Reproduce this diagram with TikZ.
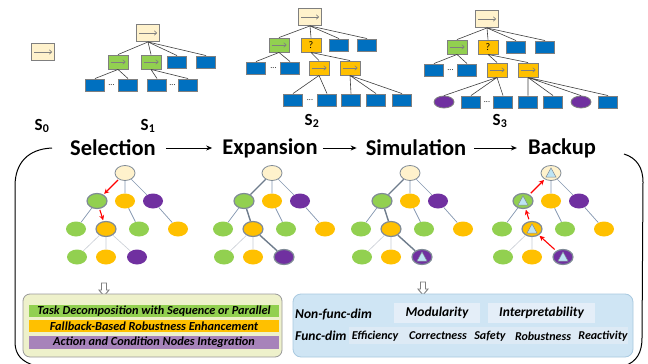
\documentclass[tikz,border=0pt]{standalone}
\usepackage{fontspec}
\setmainfont{Carlito}
\usetikzlibrary{shapes.geometric,arrows.meta,backgrounds,fit}
\definecolor{cream}{HTML}{FFF2CC}
\definecolor{gr}{HTML}{92D050}
\definecolor{orng}{HTML}{FFC000}
\definecolor{purp}{HTML}{7030A0}
\definecolor{blu}{HTML}{0070C0}
\definecolor{boxgray}{HTML}{7F7F7F}
\definecolor{edgedark}{HTML}{3F3F3F}
\definecolor{nodegray}{HTML}{7F8A96}
\definecolor{bedgec}{HTML}{8497B0}
\definecolor{ledgec}{HTML}{C9CED6}
\definecolor{pathc}{HTML}{6E7C8C}
\definecolor{tricol}{HTML}{BDE4F4}
\definecolor{hlyellow}{HTML}{FBF8CC}
\definecolor{panelL}{HTML}{EEF1CB}
\definecolor{lav}{HTML}{A783BA}
\definecolor{panelR}{HTML}{CFE5F4}
\definecolor{panelRb}{HTML}{A9C9E0}
\definecolor{subbox}{HTML}{E4EEF8}
\definecolor{band}{HTML}{DDEAF5}
\newcommand\mctstree[6]{%
\node[bn, fill=cream, draw=nodegray, line width=0.8pt, #3] (#1r) at (#2,173) {};
\node[bn, fill=gr, #4] (#1a) at (#2-28,201) {};
\node[bn, fill=orng] (#1b) at (#2,201) {};
\node[bn, fill=purp] (#1c) at (#2+28,201) {};
\node[bn, fill=gr] (#1d) at (#2-49,229) {};
\node[bn, fill=orng, #5] (#1e) at (#2-19,229) {};
\node[bn, fill=gr] (#1f) at (#2+14,229) {};
\node[bn, fill=orng] (#1g) at (#2+53,229) {};
\node[bn, fill=gr] (#1h) at (#2-48,257) {};
\node[bn, fill=orng] (#1i) at (#2-19,257) {};
\node[bn, fill=purp, #6] (#1j) at (#2+12,257) {};
\draw[bedge] (#1r) -- (#1b) (#1r) -- (#1c) (#1a) -- (#1d) (#1b) -- (#1f) (#1c) -- (#1g);
\draw[ledge] (#1e) -- (#1h) (#1e) -- (#1i);
}
\begin{document}
\begin{tikzpicture}[x=1pt,y=-1pt,
  arrowpic/.style={path picture={\draw[line width=0.6pt,-{To[length=3pt,width=5pt]}] ([xshift=2.5pt]path picture bounding box.west) -- ([xshift=-2.5pt]path picture bounding box.east);}},
  tb/.style={draw=boxgray, line width=0.9pt, inner sep=0pt, rectangle},
  rootbox/.style={tb, fill=cream, minimum width=23, minimum height=17, arrowpic},
  seqbox/.style={tb, fill=gr, minimum width=20, minimum height=14, arrowpic},
  yseq/.style={tb, fill=orng, minimum width=20, minimum height=14, arrowpic},
  qbox/.style={tb, fill=orng, minimum width=20, minimum height=14, font=\fontsize{10}{10}\selectfont},
  blbox/.style={tb, fill=blu, minimum width=19, minimum height=12},
  pell/.style={ellipse, fill=purp, draw=boxgray, line width=0.8pt, minimum width=20, minimum height=12, inner sep=0pt},
  dotsn/.style={inner sep=0pt, font=\fontsize{8}{8}\selectfont},
  tedge/.style={draw=edgedark, line width=0.6pt},
  slabel/.style={font=\bfseries\fontsize{17}{17}\selectfont},
  phase/.style={font=\fontsize{22.5}{24}\selectfont\bfseries, inner sep=0pt},
  phasearr/.style={-{Stealth[length=6pt,width=5pt]}, line width=0.9pt},
  bn/.style={ellipse, minimum width=20, minimum height=15, inner sep=0pt},
  hl/.style={draw=nodegray, line width=1.2pt},
  tri/.style={path picture={\draw[fill=tricol, draw=nodegray, line width=0.5pt] ([yshift=5pt]path picture bounding box.center) -- ++(5pt,-9pt) -- ++(-10pt,0pt) -- cycle;}},
  bedge/.style={draw=bedgec, line width=0.7pt},
  ledge/.style={draw=ledgec, line width=0.6pt},
  pathedge/.style={draw=pathc, line width=1.4pt},
  redarr/.style={draw=red, line width=1.1pt, -{Stealth[length=5pt,width=5pt]}},
  hollow/.style={draw=boxgray, fill=white, line width=0.9pt},
  bar/.style={minimum width=250, minimum height=12.5, inner sep=0pt, font=\fontsize{12.3}{12.3}\selectfont\bfseries\itshape},
  ptext/.style={inner sep=0pt, font=\fontsize{12}{12}\selectfont\bfseries\itshape},
  ltext/.style={inner sep=0pt, font=\fontsize{13.5}{13.5}\selectfont\bfseries\itshape},
]
\useasboundingbox (0,0) rectangle (648,364);
\fill[white] (0,0) rectangle (648,364);

% ---------- S0 ----------
\node[rootbox] (z0) at (43,52) {};
\node[slabel] (ls0) at (42,126) {S\textsubscript{0}};

% ---------- S1 ----------
\node[rootbox] (a0) at (148,33) {};
\node[seqbox] (a1) at (118,62) {};
\node[seqbox] (a2) at (151,62) {};
\node[blbox] (a3) at (177,62) {};
\node[blbox] (a4) at (206,62) {};
\node[blbox] (a5) at (95,85) {};
\node[blbox] (a6) at (128,85) {};
\node[blbox] (a7) at (157,85) {};
\node[blbox] (a8) at (188,85) {};
\node[dotsn] (ad1) at (111.5,85) {...};
\node[dotsn] (ad2) at (172.5,85) {...};
\foreach \c in {a1,a2,a3,a4} \draw[tedge] (a0.south) -- (\c.north);
\draw[tedge] (a1.south) -- (a5.north) (a1.south) -- (a6.north) (a2.south) -- (a7.north) (a2.south) -- (a8.north);
\node[slabel] (ls1) at (148,126) {S\textsubscript{1}};

% ---------- S2 ----------
\node[rootbox] (b0) at (310,17) {};
\node[seqbox] (b1) at (279,45) {};
\node[qbox] (b2) at (311,45) {?};
\node[blbox] (b3) at (339,45) {};
\node[blbox] (b4) at (367,45) {};
\node[blbox] (b5) at (256,68) {};
\node[blbox] (b6) at (290,68) {};
\node[yseq] (b7) at (319,68) {};
\node[yseq] (b8) at (350,68) {};
\node[dotsn] (bd1) at (273.5,68) {...};
\node[blbox] (b9) at (293,100) {};
\node[blbox] (b10) at (327,100) {};
\node[blbox] (b11) at (351,100) {};
\node[blbox] (b12) at (376,100) {};
\node[blbox] (b13) at (402,100) {};
\node[dotsn] (bd2) at (310,100) {...};
\foreach \c in {b1,b2,b3,b4} \draw[tedge] (b0.south) -- (\c.north);
\draw[tedge] (b1.south) -- (b5.north) (b1.south) -- (b6.north) (b2.south) -- (b7.north) (b2.south) -- (b8.north);
\draw[tedge] (b7.south) -- (b9.north) (b7.south) -- (b10.north);
\draw[tedge] (b8.south) -- (b11.north) (b8.south) -- (b12.north) (b8.south) -- (b13.north);
\node[slabel] (ls2) at (312,121) {S\textsubscript{2}};

% ---------- S3 ----------
\node[rootbox] (c0) at (487,19) {};
\node[seqbox] (c1) at (457,47) {};
\node[qbox] (c2) at (488,47) {?};
\node[blbox] (c3) at (516,47) {};
\node[blbox] (c4) at (545,47) {};
\node[blbox] (c5) at (434,70) {};
\node[blbox] (c6) at (467,70) {};
\node[yseq] (c7) at (497,70) {};
\node[yseq] (c8) at (528,70) {};
\node[dotsn] (cd1) at (450.5,70) {...};
\node[pell] (c9) at (444,102) {};
\node[blbox] (c10) at (471,102) {};
\node[blbox] (c11) at (503,102) {};
\node[blbox] (c12) at (528,102) {};
\node[blbox] (c13) at (553,102) {};
\node[pell] (c14) at (581,102) {};
\node[blbox] (c15) at (608,102) {};
\node[dotsn] (cd2) at (487,102) {...};
\foreach \c in {c1,c2,c3,c4} \draw[tedge] (c0.south) -- (\c.north);
\draw[tedge] (c1.south) -- (c5.north) (c1.south) -- (c6.north) (c2.south) -- (c7.north) (c2.south) -- (c8.north);
\draw[tedge] (c7.south) -- (c9.north) (c7.south) -- (c10.north) (c7.south) -- (c11.north);
\draw[tedge] (c8.south) -- (c12.north) (c8.south) -- (c13.north) (c8.south) -- (c14.north) (c8.south) -- (c15.north);
\node[slabel] (ls3) at (500,121) {S\textsubscript{3}};

% ---------- phases ----------
\node[phase] (psel) at (113,148) {Selection};
\node[phase] (pexp) at (270,148) {Expansion};
\node[phase] (psim) at (416,148) {Simulation};
\node[phase] (pbak) at (562,148) {Backup};
\draw[phasearr, shorten <=10pt, shorten >=10pt] (psel.east) -- (pexp.west);
\draw[phasearr, shorten <=5pt, shorten >=9pt] (pexp.east) -- (psim.west);
\draw[phasearr, shorten <=8pt, shorten >=11pt] (psim.east) -- (pbak.west);

% ---------- bracket ----------
\draw[line width=1pt] (52,148) .. controls (28,149) and (15,163) .. (15,186) -- (15,342) .. controls (15,355) and (22,362) .. (36,366);
\draw[line width=1pt] (624,154) .. controls (637,158) and (643,168) .. (643,182) -- (642,338) .. controls (642,352) and (637,362) .. (624,366);

% ---------- bottom trees ----------
\mctstree{s}{125}{}{hl}{hl}{}
\draw[redarr, shorten <=1pt, shorten >=1pt] (sr) -- (sa);
\draw[redarr, shorten <=1pt, shorten >=1pt] (sa) -- (se);
\draw[ledge] (se) -- (sj);
\begin{scope}[on background layer]
\node[fill=hlyellow, rounded corners=4pt, inner xsep=9pt, inner ysep=6pt, fit=(sh)(sj)] (shl) {};
\end{scope}

\mctstree{e}{272}{}{hl}{hl}{hl}
\draw[pathedge] (er) -- (ea) (ea) -- (ee) (ee) -- (ej);

\mctstree{m}{410}{}{hl}{hl}{hl,tri}
\draw[pathedge] (mr) -- (ma) (ma) -- (me) (me) -- (mj);

\mctstree{b}{551}{tri}{hl,tri}{hl,tri}{hl,tri}
\draw[redarr, shorten <=2pt, shorten >=1pt] (bj) -- (be);
\draw[redarr, shorten <=2pt, shorten >=1pt] (be) -- (ba);
\draw[redarr, shorten <=2pt, shorten >=1pt] (ba) -- (br);

% ---------- hollow down arrows ----------
\draw[hollow] (101.5,283) -- (106.5,283) -- (106.5,290) -- (109,290) -- (104,296) -- (99,290) -- (101.5,290) -- cycle;
\draw[hollow] (420.5,282) -- (425.5,282) -- (425.5,289) -- (428,289) -- (423,295) -- (418,289) -- (420.5,289) -- cycle;

% ---------- left panel ----------
\node[draw=boxgray!80, fill=panelL, line width=0.8pt, rounded corners=7pt, minimum width=259, minimum height=63, inner sep=0pt] (pl) at (152.5,325.5) {};
\node[bar, fill=gr] (bar1) at (154,311) {Task Decomposition with Sequence or Parallel};
\node[bar, fill=orng] (bar2) at (154,326) {Fallback-Based Robustness Enhancement};
\node[bar, fill=lav, minimum height=13] (bar3) at (154,342.5) {Action and Condition Nodes Integration};

% ---------- right panel ----------
\node[draw=panelRb, fill=panelR, line width=0.8pt, rounded corners=8pt, minimum width=340, minimum height=63, inner sep=0pt] (pr) at (463,325.5) {};
\node[fill=subbox, minimum width=86, minimum height=20, inner sep=0pt, ltext] (mod) at (437,313) {Modularity};
\node[fill=subbox, minimum width=107, minimum height=20, inner sep=0pt, ltext] (intp) at (541.5,313) {Interpretability};
\node[fill=band, minimum width=279, minimum height=17, inner sep=0pt] (fb) at (488.5,335.5) {};
\node[ltext, anchor=west] (nfd) at (295,315) {Non-func-dim};
\node[ltext, anchor=west] (fd) at (295,336) {Func-dim};
\node[ptext] (f1) at (375,336) {Efficiency};
\node[ptext] (f2) at (438,336) {Correctness};
\node[ptext] (f3) at (490,336) {Safety};
\node[ptext] (f4) at (543,336) {Robustness};
\node[ptext] (f5) at (603,336) {Reactivity};
\end{tikzpicture}
\end{document}
